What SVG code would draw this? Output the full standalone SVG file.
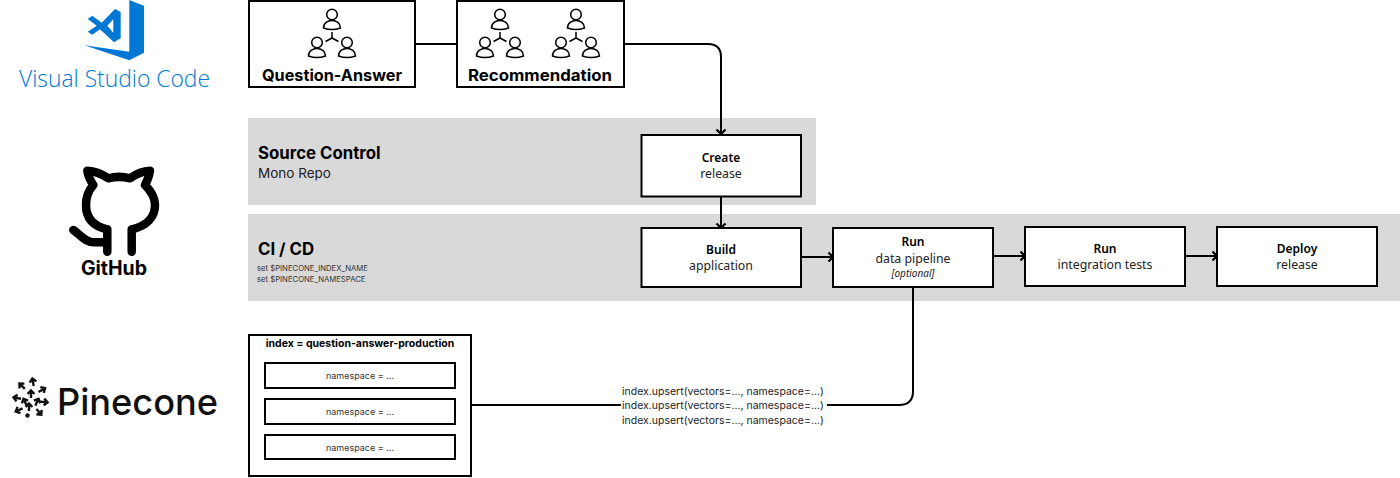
<svg xmlns="http://www.w3.org/2000/svg" width="1400" height="478" viewBox="0 0 1400 478">
<style>
text{font-family:"Inter","Liberation Sans",sans-serif;fill:#000}
.box{fill:#fff;stroke:#000;stroke-width:2}
.band{fill:#d9d9d9}
.h{font-family:"Noto Sans","Liberation Sans",sans-serif;font-weight:600;font-size:12px;text-anchor:middle}
.b{font-family:"Noto Sans","Liberation Sans",sans-serif;font-size:12.300px;text-anchor:middle;fill:#222}
.lane{font-weight:700;font-size:16.800px}
.ns{font-size:9px;text-anchor:middle;fill:#333}
.up{font-size:10.500px;fill:#222}
.env{font-size:7.700px;fill:#333}
.c{fill:none;stroke:#000;stroke-width:2}
.ic{fill:none;stroke:#000;stroke-width:1.500}
.pa{fill:none;stroke:#111;stroke-width:2.400}
</style>
<defs>
<marker id="arr" markerUnits="userSpaceOnUse" markerWidth="10" markerHeight="12" refX="8" refY="6" orient="auto"><path d="M3.500 1.500L8 6L3.500 10.500" fill="none" stroke="#000" stroke-width="2.200"/></marker>
<g id="team">
<circle cx="0" cy="14.500" r="5.300" class="ic"/><path d="M-8.500 28C-8.500 18 8.500 18 8.500 28C3 30-3 30-8.500 28Z" class="ic"/>
<circle cx="-15" cy="42.500" r="5.300" class="ic"/><path d="M-23.500 56C-23.500 46-6.500 46-6.500 56C-12 58-18 58-23.500 56Z" class="ic"/>
<circle cx="15" cy="42.500" r="5.300" class="ic"/><path d="M6.500 56C6.500 46 23.500 46 23.500 56C18 58 12 58 6.500 56Z" class="ic"/>
<path d="M0 32V38M0 38L-6.500 41.500M0 38L6.500 41.500" class="ic"/>
</g>
<g id="pa"><path d="M0 4V-3M-3.400 0L0-3.600L3.400 0" class="pa"/></g>
</defs>

<g id="vscode-logo">
<path d="M129.300 0L144 5.700V52.700L129.300 60.300L84.300 45.300L129.300 51.700Z" fill="#0078d4"/>
<path fill-rule="evenodd" d="M115 9L120.700 12V38.300L114 42.300L100 29.300L92.300 34.700L87.700 31.700L96.700 25.700L87.700 19L92.300 15.700L101.700 22.700ZM107.300 25.700L113.300 19.300V32.700Z" fill="#0078d4"/>
<text x="19" y="87" font-size="23" textLength="191" lengthAdjust="spacingAndGlyphs" style="font-family:'Open Sans',sans-serif;font-weight:300;fill:#0078d4">Visual Studio Code</text>
</g>

<g id="github-logo">
<path d="M107.300 229.300C92 226 86 217 86 205C86 196 89 190 93.300 185C90 180 88 176 87.300 170.700C95 171 102 174 108.300 178.300C115 176.500 123 176.500 130 178.300C136 174 143 171 150 170.700C149 176 148 180 145 185C150 190 155 196 155 205C155 217 147 226 131.700 229.300V251.700M107.300 229.300V251.700M73.300 230C80 234 84 242 94 242.300H106.700" fill="none" stroke="#000" stroke-width="8.500" stroke-linecap="round" stroke-linejoin="round"/>
<text x="114" y="275" font-size="19.500" font-weight="700" text-anchor="middle">GitHub</text>
</g>

<g id="pinecone-logo">
<use href="#pa" transform="translate(33,382) rotate(-10)"/>
<use href="#pa" transform="translate(22,386) rotate(-45)"/>
<use href="#pa" transform="translate(42,390) rotate(60)"/>
<use href="#pa" transform="translate(17,398) rotate(-80)"/>
<use href="#pa" transform="translate(44,402) rotate(95)"/>
<use href="#pa" transform="translate(19,410) rotate(-115)"/>
<use href="#pa" transform="translate(39,412) rotate(140)"/>
<use href="#pa" transform="translate(31,394) rotate(0)"/>
<use href="#pa" transform="translate(25,402) rotate(-25)"/>
<use href="#pa" transform="translate(37,402) rotate(25)"/>
<use href="#pa" transform="translate(29,407) rotate(0)"/>
<circle cx="27.500" cy="415.500" r="2.200" fill="#111"/>
<text x="57" y="415" font-size="37" style="font-family:'Inter',sans-serif;font-weight:500;fill:#111" textLength="161" lengthAdjust="spacingAndGlyphs">Pinecone</text>
</g>

<g id="lane-source-control">
<rect class="band" x="248" y="118" width="568" height="87"/>
<text class="lane" x="258" y="159">Source Control</text>
<text x="258" y="178" font-size="13.500" style="fill:#222">Mono Repo</text>
</g>
<g id="lane-cicd">
<rect class="band" x="248" y="214" width="1152" height="87"/>
<text class="lane" x="258" y="255">CI / CD</text>
<text class="env" x="257" y="271">set $PINECONE_INDEX_NAME</text>
<text class="env" x="257" y="282">set $PINECONE_NAMESPACE</text>
</g>

<g id="connectors">
<path class="c" d="M415 44H457"/>
<path class="c" d="M624 44H708Q721 44 721 57V134" marker-end="url(#arr)"/>
<path class="c" d="M721 197V228" marker-end="url(#arr)"/>
<path class="c" d="M802 257H833" marker-end="url(#arr)"/>
<path class="c" d="M994 256H1025" marker-end="url(#arr)"/>
<path class="c" d="M1186 256H1217" marker-end="url(#arr)"/>
<path class="c" d="M471 405H621"/>
<path class="c" d="M827 405H899Q913 405 913 391V288"/>
</g>

<g id="node-question-answer">
<rect class="box" x="249" y="1" width="166" height="86"/>
<use href="#team" x="332"/>
<text x="332" y="81" font-size="16" font-weight="700" text-anchor="middle" textLength="140" lengthAdjust="spacingAndGlyphs">Question-Answer</text>
</g>
<g id="node-recommendation">
<rect class="box" x="457" y="1" width="167" height="86"/>
<use href="#team" x="500"/>
<use href="#team" x="576"/>
<text x="540" y="81" font-size="16" font-weight="700" text-anchor="middle" textLength="144" lengthAdjust="spacingAndGlyphs">Recommendation</text>
</g>
<g id="node-create">
<rect class="box" x="641.500" y="135" width="159.500" height="61.500"/>
<text class="h" x="721" y="162">Create</text>
<text class="b" x="721" y="178">release</text>
</g>
<g id="node-build">
<rect class="box" x="641.500" y="228" width="159.500" height="59"/>
<text class="h" x="721" y="254">Build</text>
<text class="b" x="721" y="270">application</text>
</g>
<g id="node-data-pipeline">
<rect class="box" x="833" y="228" width="160" height="59"/>
<text class="h" x="913" y="246">Run</text>
<text class="b" x="913" y="263">data pipeline</text>
<text x="913" y="277" font-size="10" font-style="italic" text-anchor="middle" style="font-family:'Noto Sans',sans-serif;fill:#222">[optional]</text>
</g>
<g id="node-integration-tests">
<rect class="box" x="1025" y="227" width="160" height="59"/>
<text class="h" x="1105" y="253">Run</text>
<text class="b" x="1105" y="269">integration tests</text>
</g>
<g id="node-deploy">
<rect class="box" x="1217" y="227" width="160" height="59"/>
<text class="h" x="1297" y="253">Deploy</text>
<text class="b" x="1297" y="269">release</text>
</g>
<g id="node-index">
<rect class="box" x="249" y="335" width="222" height="141"/>
<text x="360" y="347" font-size="10.500" font-weight="700" text-anchor="middle">index = question-answer-production</text>
<rect class="box" x="265" y="363" width="190" height="25"/>
<text class="ns" x="360" y="379">namespace = ...</text>
<rect class="box" x="265" y="399" width="190" height="25"/>
<text class="ns" x="360" y="415">namespace = ...</text>
<rect class="box" x="265" y="435" width="190" height="24"/>
<text class="ns" x="360" y="451">namespace = ...</text>
</g>
<g id="upsert-labels">
<text class="up" x="622" y="395">index.upsert(vectors=..., namespace=...)</text>
<text class="up" x="622" y="409">index.upsert(vectors=..., namespace=...)</text>
<text class="up" x="622" y="424">index.upsert(vectors=..., namespace=...)</text>
</g>
</svg>
